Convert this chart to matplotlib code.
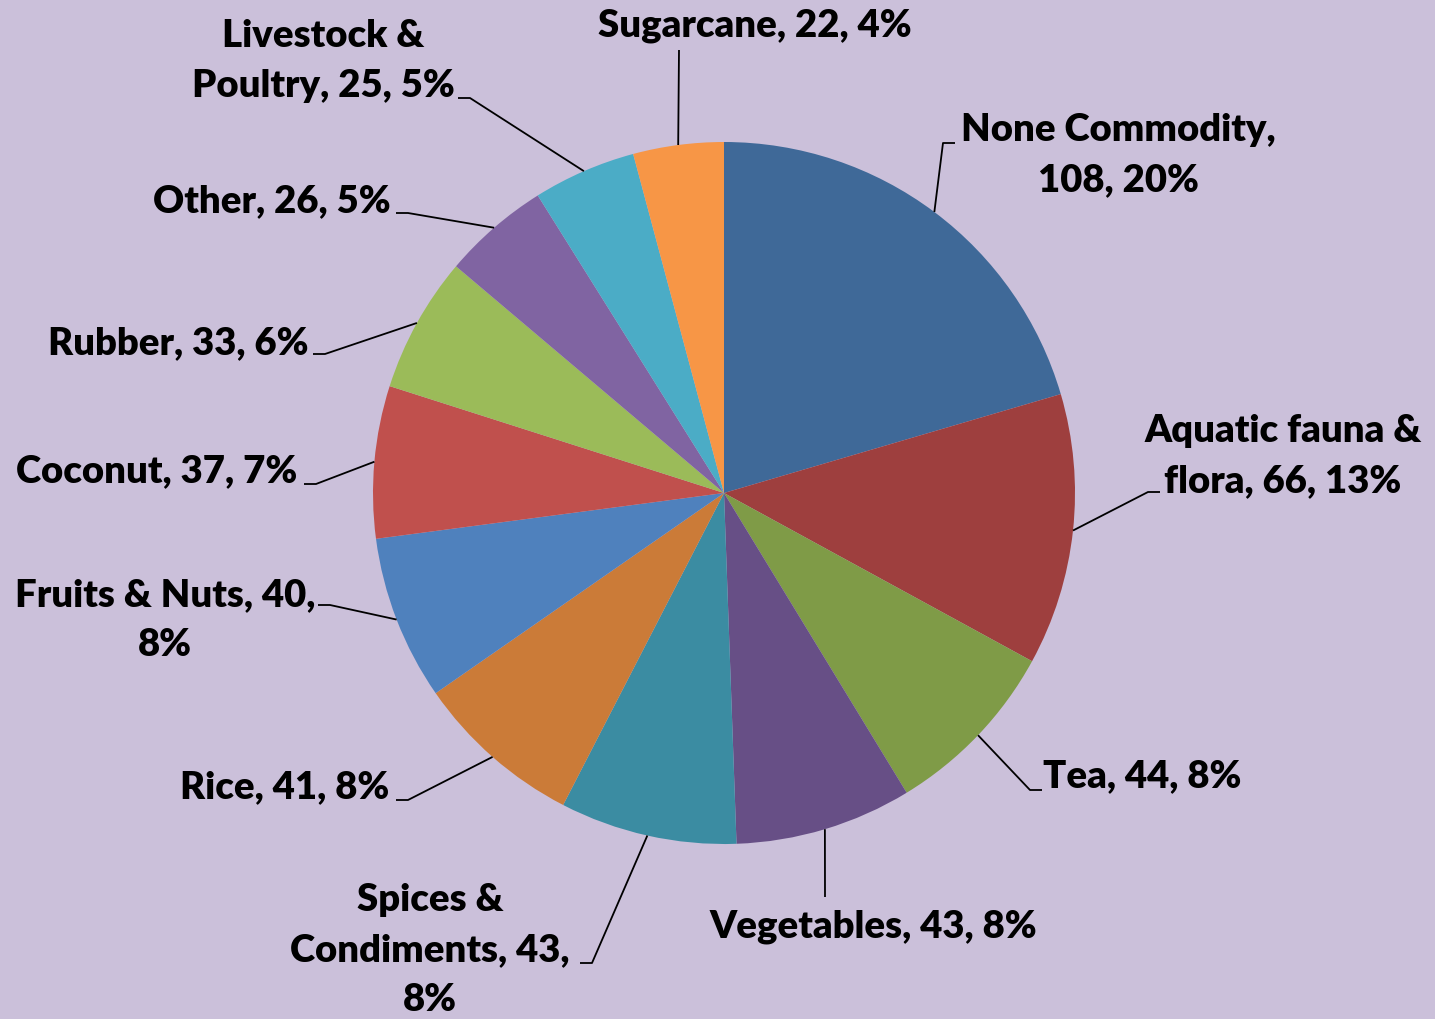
import numpy as np
import matplotlib.pyplot as plt

categories = ['None Commodity', 'Aquatic fauna & flora', 'Tea', 'Vegetables',
              'Spices & Condiments', 'Rice', 'Fruits & Nuts', 'Coconut',
              'Rubber', 'Other', 'Livestock & Poultry', 'Sugarcane']
values = [108, 66, 44, 43, 43, 41, 40, 37, 33, 26, 25, 22]
colors = ['#3F6998', '#9E3F3E', '#7F9B47', '#674F86', '#3B8CA2', '#CB7B38',
          '#4F81BD', '#C0504D', '#9BBB59', '#8064A2', '#4BACC6', '#F79646']

# how each label wraps
label_fmt = ['None Commodity,\n{v}, {p}%', 'Aquatic fauna &\nflora, {v}, {p}%',
             'Tea, {v}, {p}%', 'Vegetables, {v}, {p}%',
             'Spices &\nCondiments, {v},\n{p}%', 'Rice, {v}, {p}%',
             'Fruits & Nuts, {v},\n{p}%', 'Coconut, {v}, {p}%',
             'Rubber, {v}, {p}%', 'Other, {v}, {p}%',
             'Livestock &\nPoultry, {v}, {p}%', 'Sugarcane, {v}, {p}%']

# label centre and leader-line elbow, in pixel coords (y down)
label_pos = [(1118, 155), (1283, 456), (1142, 776), (873, 927), (430, 950),
             (285, 787), (165, 620), (157, 471), (178, 343), (272, 201),
             (323, 61), (755, 26)]
elbows = [(943, 143), (1148, 492), (1030, 790), (825, 897), (592, 963),
          (408, 800), (330, 605), (316, 484), (325, 354), (408, 213),
          (470, 98), (679, 50)]
tails = [12, 12, 12, 0, -12, -12, -12, -12, -12, -12, -12, 0]

W, H = 1435, 1019
bg = '#CBC0DA'
cx, cy, r = 724, 493, 351

def py(y):
    return H - y

fig = plt.figure(figsize=(W / 100, H / 100), dpi=100, facecolor=bg)
ax = fig.add_axes([0, 0, 1, 1])
ax.set_facecolor(bg)

ax.pie(values, colors=colors, startangle=90, counterclock=False,
       center=(cx, py(cy)), radius=r, frame=True,
       wedgeprops=dict(linewidth=0))
ax.set_xlim(0, W)
ax.set_ylim(0, H)
ax.set_aspect('equal')
ax.axis('off')

total = sum(values)
cum = np.cumsum([0] + values)
for i, v in enumerate(values):
    mid = 90 - (cum[i] + v / 2) / total * 360
    ex = cx + r * np.cos(np.radians(mid))
    ey = cy - r * np.sin(np.radians(mid))
    bx, by = elbows[i]
    xs = [ex, bx, bx + tails[i]]
    ys = [py(ey), py(by), py(by)]
    ax.plot(xs, ys, color='black', lw=1.3, solid_capstyle='butt')
    pct = int(v / total * 100 + 0.5)
    lx, ly = label_pos[i]
    ax.text(lx, py(ly), label_fmt[i].format(v=v, p=pct), ha='center',
            va='center', fontsize=27.5, fontweight='heavy', family='Lato',
            linespacing=1.56, color='black')

fig.savefig('out.png', dpi=100, facecolor=bg)
